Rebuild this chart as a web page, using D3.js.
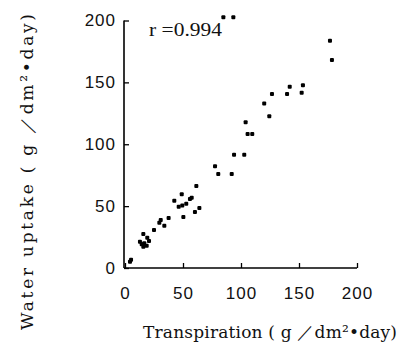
<!DOCTYPE html>
<html><head><meta charset="utf-8">
<script src="https://cdn.jsdelivr.net/npm/d3@7"></script>
<style>body{margin:0;background:#fff}svg{display:block}</style>
</head><body>
<script>
const transpiration = [84.8,93.4,176.7,178.4,104,105.7,109.7,120,124.4,126.7,139.7,142,152.3,153.4,
  77.6,80.4,92,94,102.8,61.5,57.5,48.9,42.5,46.3,49.4,52.8,56,50.3,60.3,64.1,37.6,33.9,30.8,29.6,25,
  15.8,19.2,12.9,14.4,16.6,18.7,20.7,15.8,5.2,4.3];
const uptake = [202.6,202.6,183.7,168,117.7,108.3,108.3,133,122.6,140.6,140.6,146.5,141.7,147.6,
  82.2,76,76,91.6,91.6,66.3,56.8,59.6,54.4,49.5,50.6,52,55.8,41.2,45.2,48.5,40.4,34.2,38.8,36.6,30.7,
  27.5,24.5,21.3,19.2,20,18,21.8,17.2,6.7,5.1];
const xTicks = [0,50,100,150,200];
const yTicks = [0,50,100,150,200];
const xTitle = "Transpiration ( g ／dm²•day)";
const yTitle = "Water uptake ( g ／dm²•day)";
const rLabel = "r =0.994";

const W = 404, H = 349;
const svg = d3.select("body").append("svg").attr("width", W).attr("height", H);
const x = d3.scaleLinear().domain([0,200]).range([125,357]);
const y = d3.scaleLinear().domain([0,200]).range([268,20.5]);

const tickFont = "'Liberation Sans', Arial, sans-serif";
const serif = "'DejaVu Serif', 'Liberation Serif', serif";

const gx = svg.append("g").attr("transform","translate(0,268)")
  .call(d3.axisBottom(x).tickValues(xTicks).tickSize(-5).tickPadding(19).tickSizeOuter(0));
const gy = svg.append("g").attr("transform","translate(124,0)")
  .call(d3.axisLeft(y).tickValues(yTicks).tickSize(-5).tickPadding(8).tickSizeOuter(0));
[gx, gy].forEach(g => {
  g.select(".domain").attr("stroke","#000").attr("stroke-width",1.6);
  g.selectAll(".tick line").attr("stroke","#000").attr("stroke-width",1.3);
  g.selectAll(".tick text").attr("fill","#111").style("font-family",tickFont)
    .style("font-size","17px").style("letter-spacing","1px").style("font-weight","300");
});
gy.select(".domain").attr("d","M0,20.5V268");
gx.select(".domain").attr("d","M124,0H357");

svg.append("g").selectAll("rect").data(transpiration).join("rect")
  .attr("x",(d,i)=>x(d)-2).attr("y",(d,i)=>y(uptake[i])-2)
  .attr("width",4).attr("height",4).attr("rx",1).attr("fill","#000");

svg.append("text").attr("x",149).attr("y",36).text(rLabel)
  .style("font-family","'Liberation Serif', serif").style("font-size","18px").attr("fill","#111")
  .attr("textLength",73).attr("lengthAdjust","spacingAndGlyphs");

svg.append("text").attr("x",143).attr("y",338).text(xTitle)
  .style("font-family",serif).style("font-size","17px").attr("fill","#111")
  .attr("textLength",254).attr("lengthAdjust","spacing");

svg.append("text").attr("transform","translate(33,330) rotate(-90)").text(yTitle)
  .style("font-family",serif).style("font-size","17px").attr("fill","#111")
  .attr("textLength",316).attr("lengthAdjust","spacing");
</script>
</body></html>
